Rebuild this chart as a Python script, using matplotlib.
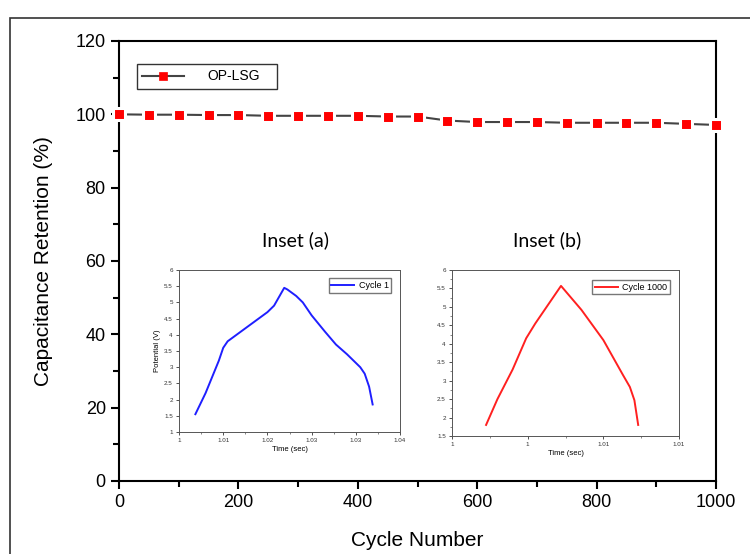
import numpy as np
import matplotlib.pyplot as plt
from matplotlib.patches import Rectangle

plt.rcParams['font.family'] = ['Liberation Sans', 'DejaVu Sans']

# Capacitance retention over cycling
cycles = [0, 50, 100, 150, 200, 250, 300, 350, 400, 450, 500,
          550, 600, 650, 700, 750, 800, 850, 900, 950, 1000]
retention = [100, 99.9, 99.9, 99.8, 99.8, 99.6, 99.6, 99.6, 99.6, 99.4, 99.4,
             98.3, 97.9, 97.9, 97.9, 97.7, 97.7, 97.7, 97.7, 97.4, 97.1]

# Charge/discharge curve, cycle 1 (time in tick units of 0.01 s above 1 s)
time_a = [0.37, 0.6, 0.9, 1.0, 1.1, 1.4, 1.7, 2.0, 2.15, 2.38, 2.45,
          2.65, 2.8, 3.0, 3.3, 3.55, 3.8, 4.1, 4.2, 4.3, 4.38]
pot_a = [1.55, 2.2, 3.2, 3.6, 3.8, 4.1, 4.4, 4.7, 4.9, 5.45, 5.4,
         5.2, 5.0, 4.6, 4.1, 3.7, 3.4, 3.0, 2.8, 2.4, 1.85]
ticks_a = ['1', '1.01', '1.02', '1.03', '1.03', '1.04']

# Charge/discharge curve, cycle 1000
time_b = [0.45, 0.6, 0.8, 0.98, 1.1, 1.44, 1.71, 2.0, 2.26, 2.35, 2.41, 2.46]
pot_b = [1.8, 2.5, 3.3, 4.15, 4.55, 5.57, 4.92, 4.1, 3.15, 2.83, 2.47, 1.8]
ticks_b = ['1', '1', '1.01', '1.01']

fig = plt.figure(figsize=(7.5, 5.54), dpi=100)
fig.patches.append(Rectangle((10 / 750, -0.1), 1.0, 1 - 18 / 554 + 0.1,
                             transform=fig.transFigure, fill=False,
                             edgecolor='#333333', lw=1.2))

ax = fig.add_axes([0.1587, 0.1318, 0.796, 0.7942])
ax.plot(cycles, retention, color='#444444', lw=1.5, marker='s', ms=8.5,
        mfc='red', mec='white', mew=2.2, label='OP-LSG', clip_on=False, zorder=3)
ax.set_xlim(0, 1000)
ax.set_ylim(0, 120)
ax.set_xticks(range(0, 1001, 200))
ax.set_xticks(range(100, 1000, 200), minor=True)
ax.set_yticks(range(0, 121, 20))
ax.set_yticks(range(10, 120, 20), minor=True)
ax.tick_params(which='major', direction='out', length=6, width=1.5, labelsize=13)
ax.tick_params(which='minor', direction='out', length=4, width=1.5)
for s in ax.spines.values():
    s.set_linewidth(1.5)
ax.set_xlabel('Cycle Number', fontsize=15, labelpad=14)
ax.set_ylabel('Capacitance Retention (%)', fontsize=15, labelpad=16)
leg = ax.legend(loc='upper left', bbox_to_anchor=(0.03, 0.948, 0.2345, 0),
                mode='expand', fontsize=10, fancybox=False, edgecolor='black',
                handlelength=3.0, handletextpad=1.7, borderpad=0.4,
                borderaxespad=0)
leg.get_frame().set_linewidth(1.0)
for h in leg.legend_handles:
    h.set_markersize(6)
    h.set_markeredgecolor('red')
    h.set_markeredgewidth(0.5)

def style_inset(ia):
    for s in ia.spines.values():
        s.set_linewidth(0.7)
        s.set_color('#555555')
    ia.tick_params(which='major', direction='out', length=2.5, width=0.6,
                   labelsize=4.5, colors='#333333', pad=2)
    ia.tick_params(which='minor', direction='out', length=1.5, width=0.5,
                   colors='#555555')

# Inset (a)
ia = fig.add_axes([0.2387, 0.2202, 0.2947, 0.2924])
ia.plot(time_a, pot_a, color='#1f1fff', lw=1.4, label='Cycle 1')
ia.set_xlim(0, 5)
ia.set_ylim(1, 6)
ia.set_xticks(range(6))
ia.set_xticklabels(ticks_a)
ia.set_xticks(np.arange(0.5, 5, 1), minor=True)
ia.set_yticks(np.arange(1, 6.01, 0.5))
ia.set_yticklabels(['1', '1.5', '2', '2.5', '3', '3.5', '4', '4.5', '5', '5.5', '6'])
ia.set_xlabel('Time (sec)', fontsize=5.5, labelpad=2)
ia.set_ylabel('Potential (V)', fontsize=5.5, labelpad=2)
style_inset(ia)
ia.legend(loc='upper right', bbox_to_anchor=(0.96, 0.95), fontsize=6.5,
          fancybox=False, edgecolor='#555555', handlelength=2.5,
          borderpad=0.3, handletextpad=0.5, borderaxespad=0)

# Inset (b)
ib = fig.add_axes([0.6027, 0.2130, 0.3027, 0.2996])
ib.plot(time_b, pot_b, color='#ff2020', lw=1.4, label='Cycle 1000')
ib.set_xlim(0, 3)
ib.set_ylim(1.5, 6)
ib.set_xticks(range(4))
ib.set_xticklabels(ticks_b)
ib.set_xticks(np.arange(0.5, 3, 1), minor=True)
ib.set_yticks(np.arange(1.5, 6.01, 0.5))
ib.set_yticklabels(['1.5', '2', '2.5', '3', '3.5', '4', '4.5', '5', '5.5', '6'])
ib.set_yticks(np.arange(1.75, 6, 0.5), minor=True)
ib.set_xlabel('Time (sec)', fontsize=5.5, labelpad=2)
style_inset(ib)
ib.legend(loc='upper right', bbox_to_anchor=(0.96, 0.94), fontsize=6.5,
          fancybox=False, edgecolor='#555555', handlelength=2.5,
          borderpad=0.3, handletextpad=0.5, borderaxespad=0)

fig.text(296 / 750, 1 - 240 / 554, 'Inset (a)', fontsize=14, ha='center',
         va='center', family=['Lato', 'DejaVu Sans'])
fig.text(547 / 750, 1 - 240 / 554, 'Inset (b)', fontsize=14, ha='center',
         va='center', family=['Lato', 'DejaVu Sans'])

fig.savefig('out.png', dpi=100)
